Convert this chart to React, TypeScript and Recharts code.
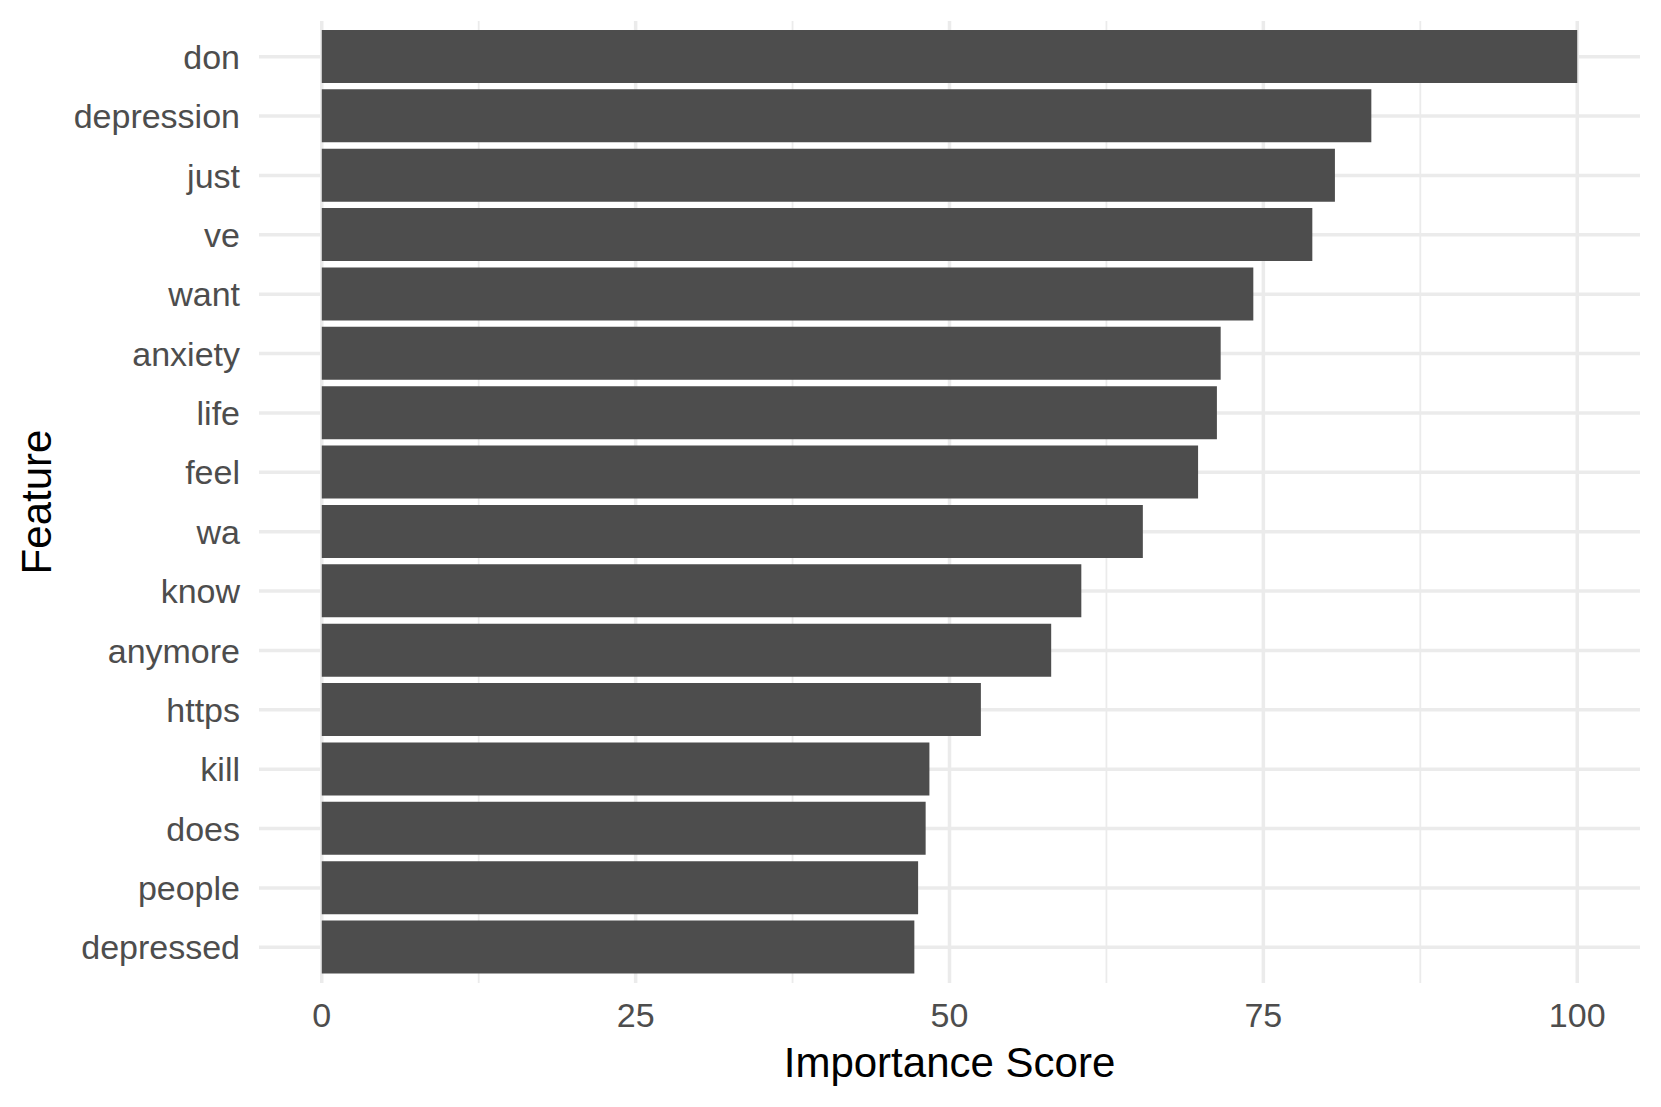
import React from 'react';
import { BarChart, Bar, XAxis, YAxis, CartesianGrid } from 'recharts';

// features, top to bottom
const features = [
  'don', 'depression', 'just', 've', 'want', 'anxiety', 'life', 'feel',
  'wa', 'know', 'anymore', 'https', 'kill', 'does', 'people', 'depressed',
];

const scores = [
  100, 83.6, 80.7, 78.9, 74.2, 71.6, 71.3, 69.8,
  65.4, 60.5, 58.1, 52.5, 48.4, 48.1, 47.5, 47.2,
];

const majorTicks = [0, 25, 50, 75, 100];
const minorTicks = [12.5, 37.5, 62.5, 87.5];

const FONT = '"Liberation Sans", Arial, Helvetica, sans-serif';
const GRID = '#EBEBEB';

const App: React.FC = () => {
  const chartData = features.map((f, i) => ({ feature: f, score: scores[i] }));

  return (
    <div style={{ position: 'absolute', left: 0, top: 0, background: '#fff' }}>
      <BarChart
        width={1661}
        height={1107}
        data={chartData}
        layout="vertical"
        barCategoryGap="5%"
        margin={{ top: 21, right: 21, bottom: 0, left: 0 }}
      >
        {/* minor vertical grid */}
        <CartesianGrid
          horizontal={false}
          vertical={true}
          verticalValues={minorTicks}
          stroke={GRID}
          strokeWidth={1.8}
        />
        {/* major vertical grid */}
        <CartesianGrid
          horizontal={false}
          vertical={true}
          verticalValues={majorTicks}
          stroke={GRID}
          strokeWidth={3.5}
        />
        {/* horizontal grid, one line per feature */}
        <CartesianGrid
          horizontal={true}
          vertical={false}
          horizontalValues={features}
          stroke={GRID}
          strokeWidth={3.5}
        />
        <XAxis
          type="number"
          domain={[-5, 105]}
          ticks={majorTicks}
          interval={0}
          allowDataOverflow
          height={124}
          tickLine={false}
          axisLine={false}
          tickSize={0}
          tickMargin={20}
          tick={{ fill: '#4D4D4D', fontSize: 34, fontFamily: FONT }}
          label={{
            value: 'Importance Score',
            position: 'insideBottom',
            offset: 30,
            fill: '#000',
            fontSize: 42,
            fontFamily: FONT,
          }}
        />
        <YAxis
          type="category"
          dataKey="feature"
          width={259}
          interval={0}
          padding={{ top: 6, bottom: 6 }}
          tickLine={false}
          axisLine={false}
          tickSize={0}
          tickMargin={19}
          tick={{ fill: '#4D4D4D', fontSize: 34, fontFamily: FONT }}
          label={{
            value: 'Feature',
            position: 'insideLeft',
            offset: 36,
            angle: -90,
            textAnchor: 'middle',
            style: { textAnchor: 'middle' },
            fill: '#000',
            fontSize: 42,
            fontFamily: FONT,
          }}
        />
        <Bar dataKey="score" fill="#4D4D4D" isAnimationActive={false} />
      </BarChart>
    </div>
  );
};

export default App;
